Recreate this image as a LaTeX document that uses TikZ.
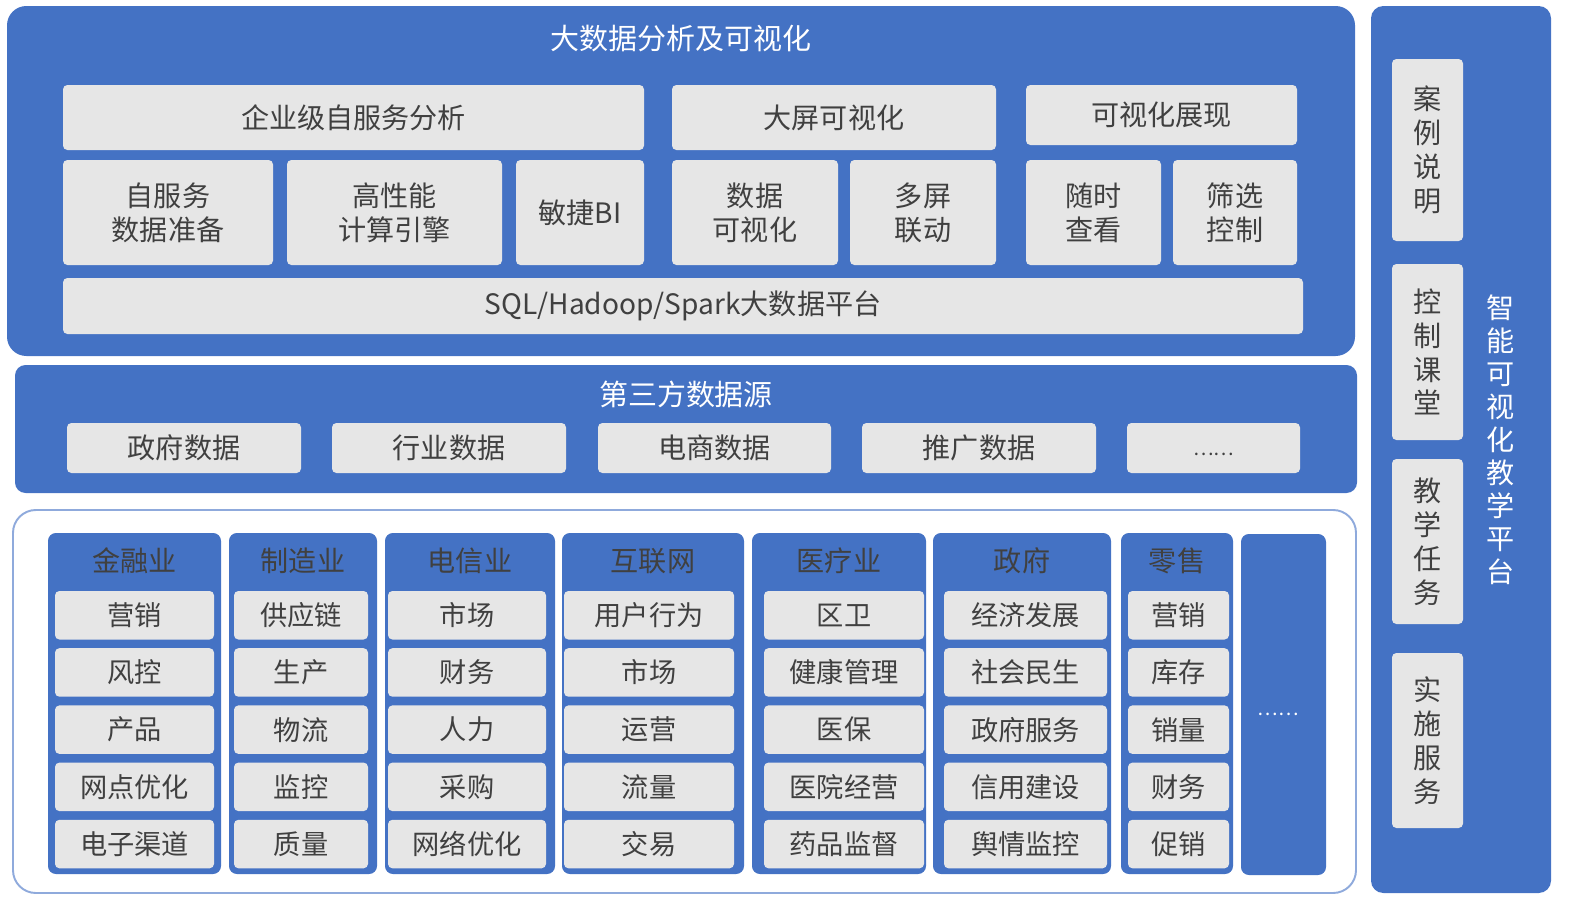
\documentclass[tikz,border=0pt]{standalone}
\usepackage{fontspec}
\setmainfont{Noto Sans CJK SC}
\definecolor{bl}{HTML}{4472C4}
\definecolor{gr}{HTML}{E6E6E6}
\definecolor{tx}{HTML}{404040}
\definecolor{fr}{HTML}{8FAADC}
\newcommand\mfont{\fontsize{16pt}{19.3pt}\selectfont}
\newcommand\ifont{\fontsize{15.5pt}{19pt}\selectfont}
\newcommand\tfont{\fontsize{16.5pt}{19pt}\selectfont}
\newcommand\bx[7][]{\node[#1, minimum width={(#4-#2)*0.02cm}, minimum height={(#5-#3)*0.02cm}] (#6) at ({(#2+#4)/2},{(#3+#5)/2}) {#7};}
\newcommand\indcol[7]{%
  \bx[colbox]{#2}{533}{#3}{874}{#1}{}
  \node[hdr] (#1-h) at ({(#2+#3)/2},561) {#6};
  \foreach \t [count=\i] in {#7} {%
    \pgfmathsetmacro\ya{591+(\i-1)*57.2}%
    \pgfmathsetmacro\yb{\ya+48.5}%
    \bx[item]{#4}{\ya}{#5}{\yb}{#1-\i}{\t}}%
}
\tikzset{
  gbox/.style={fill=gr, rounded corners=2.5pt, inner sep=0pt, text=tx, font=\mfont, align=center},
  item/.style={gbox, font=\ifont},
  panel/.style={fill=bl, rounded corners=11pt, inner sep=0pt},
  colbox/.style={fill=bl, rounded corners=4.5pt, inner sep=0pt},
  hdr/.style={text=tx, font=\mfont, inner sep=0pt},
  ttl/.style={text=white, font=\tfont, inner sep=0pt, align=center},
}
\begin{document}
\begin{tikzpicture}[x=0.02cm,y=-0.02cm]
\useasboundingbox (0,0) rectangle (1569,906);
% panels
\bx[panel]{7}{6}{1355}{356}{p1}{}
\bx[panel, rounded corners=6pt]{15}{365}{1357}{493}{p2}{}
\bx[fill=white, draw=fr, line width=1.1pt, rounded corners=13pt, inner sep=0pt]{13}{510}{1356}{893}{p3}{}
\bx[panel, rounded corners=7pt]{1371}{6}{1551}{893}{p4}{}
% top panel
\node[ttl] (t1) at (681,39) {大数据分析及可视化};
\bx[gbox]{63}{85}{644}{150}{a1}{企业级自服务分析}
\bx[gbox]{672}{85}{996}{150}{a2}{大屏可视化}
\bx[gbox]{1026}{85}{1297}{145}{a3}{可视化展现}
\bx[gbox]{63}{160}{273}{265}{b1}{自服务\\数据准备}
\bx[gbox]{287}{160}{502}{265}{b2}{高性能\\计算引擎}
\bx[gbox]{516}{160}{644}{265}{b3}{敏捷BI}
\bx[gbox]{672}{160}{838}{265}{b4}{数据\\可视化}
\bx[gbox]{850}{160}{996}{265}{b5}{多屏\\联动}
\bx[gbox]{1026}{160}{1161}{265}{b6}{随时\\查看}
\bx[gbox]{1173}{160}{1297}{265}{b7}{筛选\\控制}
\bx[gbox]{63}{278}{1303}{334}{sql}{\raisebox{-1.5pt}{SQL/Hadoop/Spark大数据平台}}
% third-party
\node[ttl] (t2) at (686,394) {第三方数据源};
\bx[gbox]{67}{423}{301}{473}{d1}{政府数据}
\bx[gbox]{332}{423}{566}{473}{d2}{行业数据}
\bx[gbox]{598}{423}{831}{473}{d3}{电商数据}
\bx[gbox]{862}{423}{1096}{473}{d4}{推广数据}
\bx[gbox]{1127}{423}{1300}{473}{d5}{\raisebox{-4pt}[0pt][0pt]{\fontsize{11pt}{12pt}\selectfont ……}}
% industries
\indcol{c1}{48}{221}{55}{214}{金融业}{营销,风控,产品,网点优化,电子渠道}
\indcol{c2}{229}{377}{234}{368}{制造业}{供应链,生产,物流,监控,质量}
\indcol{c3}{385}{555}{388}{546}{电信业}{市场,财务,人力,采购,网络优化}
\indcol{c4}{562}{744}{564}{734}{互联网}{用户行为,市场,运营,流量,交易}
\indcol{c5}{752}{926}{764}{924}{医疗业}{区卫,健康管理,医保,医院经营,药品监督}
\indcol{c6}{933}{1111}{944}{1107}{政府}{经济发展,社会民生,政府服务,信用建设,舆情监控}
\indcol{c7}{1121}{1233}{1128}{1229}{零售}{营销,库存,销量,财务,促销}
\bx[colbox]{1241}{534}{1326}{875}{c8}{}
\node[text=white, font=\fontsize{11pt}{12pt}\selectfont, inner sep=0pt] (c8t) at (1278,714) {……};
% right panel
\bx[gbox]{1392}{59}{1463}{241}{r1}{案\\例\\说\\明}
\bx[gbox]{1392}{264}{1463}{440}{r2}{控\\制\\课\\堂}
\bx[gbox]{1392}{459}{1463}{624}{r3}{教\\学\\任\\务}
\bx[gbox]{1392}{653}{1463}{828}{r4}{实\\施\\服\\务}
\node[ttl, font=\fontsize{16pt}{18.8pt}\selectfont] (t3) at (1501,440) {智\\能\\可\\视\\化\\教\\学\\平\\台};
\end{tikzpicture}
\end{document}
